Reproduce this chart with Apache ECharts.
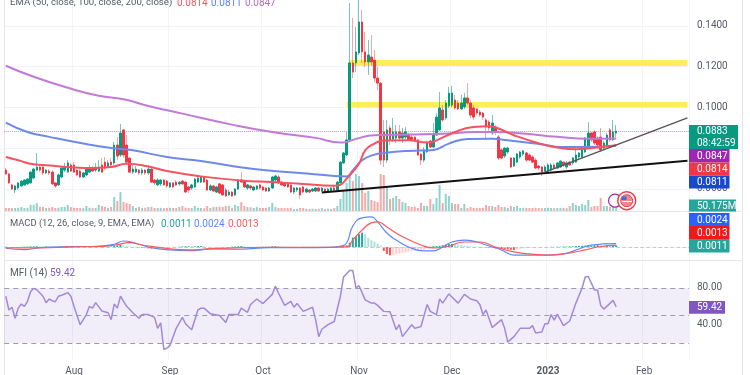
<!DOCTYPE html>
<html><head><meta charset="utf-8">
<style>html,body{margin:0;padding:0;background:#fff}#c{width:750px;height:375px}</style>
<script src="https://cdn.jsdelivr.net/npm/echarts@6/dist/echarts.min.js"></script>
</head><body><div id="c"></div>
<script>
// rows: open, close, high, low (one per day from 10 Jul 2022)
const candles = [
[.0692,.0673,.0702,.0668],[.0673,.0629,.0678,.0624],[.0619,.0599,.0624,.0594],[.0594,.0614,.0619,.0579],[.0604,.0629,.0633,.0594],
[.0614,.0638,.0643,.0609],[.0619,.0643,.0648,.0614],[.0624,.0648,.0653,.0619],[.0629,.0682,.0687,.0624],[.0653,.0697,.0702,.0648],
[.0692,.0707,.0776,.0687],[.0707,.0692,.0717,.0682],[.0707,.0678,.0717,.0668],[.0678,.0692,.0697,.0673],[.0687,.0678,.0697,.0668],
[.0682,.0624,.0692,.0619],[.0629,.0614,.0633,.0604],[.0619,.0668,.0673,.0614],[.0658,.0702,.0707,.0653],[.0692,.0707,.0727,.0682],
[.0682,.0727,.0741,.0678],[.0717,.0687,.0727,.0682],[.0717,.0682,.0731,.0678],[.0692,.0668,.0697,.0663],[.0687,.0658,.0697,.0653],
[.0658,.0678,.0682,.0653],[.0668,.0697,.0702,.0663],[.0682,.0702,.0717,.0678],[.0702,.0687,.0712,.0682],[.0692,.0702,.0727,.0682],
[.0687,.0707,.0741,.0682],[.0717,.0682,.0751,.0678],[.0731,.0702,.0756,.0692],[.0707,.0727,.0741,.0702],[.0731,.0717,.0751,.0712],
[.0727,.0815,.0830,.0717],[.0815,.0761,.0854,.0741],[.0766,.0874,.0918,.0756],[.0889,.0766,.0894,.0751],[.0815,.0731,.0864,.0722],
[.0751,.0682,.0756,.0678],[.0682,.0697,.0717,.0673],[.0682,.0697,.0712,.0678],[.0692,.0678,.0697,.0668],[.0678,.0692,.0702,.0668],
[.0692,.0678,.0697,.0668],[.0678,.0697,.0717,.0668],[.0697,.0633,.0702,.0629],[.0643,.0629,.0648,.0619],[.0619,.0643,.0653,.0614],
[.0624,.0643,.0648,.0614],[.0643,.0619,.0648,.0614],[.0638,.0614,.0643,.0604],[.0609,.0629,.0633,.0604],[.0629,.0609,.0633,.0604],
[.0633,.0619,.0643,.0614],[.0624,.0633,.0638,.0614],[.0638,.0624,.0643,.0619],[.0633,.0584,.0638,.0579],[.0609,.0594,.0614,.0579],
[.0604,.0619,.0624,.0594],[.0609,.0648,.0653,.0604],[.0633,.0653,.0658,.0629],[.0633,.0658,.0663,.0629],[.0658,.0633,.0663,.0629],
[.0643,.0594,.0648,.0589],[.0594,.0614,.0624,.0589],[.0614,.0589,.0619,.0584],[.0584,.0609,.0614,.0579],[.0624,.0579,.0629,.0574],
[.0619,.0570,.0624,.0565],[.0594,.0565,.0604,.0560],[.0570,.0584,.0594,.0565],[.0584,.0565,.0589,.0560],[.0570,.0599,.0604,.0565],
[.0599,.0643,.0648,.0594],[.0643,.0633,.0682,.0629],[.0638,.0609,.0643,.0604],[.0604,.0619,.0624,.0594],[.0614,.0604,.0619,.0594],
[.0594,.0609,.0614,.0589],[.0599,.0614,.0619,.0594],[.0619,.0604,.0624,.0594],[.0609,.0594,.0614,.0589],[.0604,.0589,.0609,.0584],
[.0589,.0604,.0609,.0584],[.0604,.0658,.0663,.0599],[.0643,.0663,.0668,.0638],[.0658,.0629,.0668,.0624],[.0633,.0619,.0638,.0614],
[.0629,.0614,.0633,.0609],[.0624,.0609,.0629,.0604],[.0619,.0584,.0624,.0579],[.0584,.0604,.0609,.0574],[.0594,.0604,.0609,.0584],
[.0604,.0570,.0609,.0550],[.0609,.0584,.0614,.0579],[.0584,.0599,.0604,.0579],[.0594,.0584,.0599,.0579],[.0589,.0599,.0604,.0584],
[.0589,.0604,.0609,.0584],[.0604,.0589,.0609,.0584],[.0589,.0604,.0609,.0584],[.0599,.0584,.0604,.0579],[.0589,.0599,.0604,.0584],
[.0589,.0604,.0609,.0584],[.0604,.0594,.0614,.0589],[.0594,.0633,.0638,.0584],[.0629,.0731,.0736,.0624],[.0727,.0776,.0781,.0722],
[.0766,.0840,.0879,.0761],[.0840,.1218,.1512,.0830],[.1218,.1173,.1439,.1144],[.1218,.1272,.1394,.1173],[.1267,.1419,.1527,.1257],
[.1419,.1272,.1478,.1218],[.1272,.1223,.1370,.1198],[.1223,.1257,.1331,.1159],[.1247,.1223,.1355,.1203],[.1232,.1144,.1282,.1124],
[.1144,.1119,.1198,.1085],[.1119,.0741,.1124,.0717],[.0879,.0741,.0938,.0707],[.0741,.0889,.0938,.0727],[.0899,.0840,.0913,.0815],
[.0844,.0879,.0948,.0830],[.0849,.0879,.0913,.0825],[.0879,.0849,.0913,.0840],[.0849,.0874,.0899,.0825],[.0854,.0879,.0903,.0844],
[.0864,.0840,.0874,.0835],[.0854,.0840,.0864,.0830],[.0854,.0835,.0859,.0830],[.0840,.0766,.0844,.0761],[.0771,.0741,.0776,.0717],
[.0741,.0791,.0805,.0731],[.0781,.0830,.0835,.0776],[.0835,.0805,.0840,.0800],[.0805,.0864,.0923,.0800],[.0864,.0952,.0972,.0859],
[.0889,.0997,.1075,.0884],[.0987,.0938,.1011,.0928],[.0948,.1021,.1036,.0938],[.1007,.1070,.1100,.0997],[.1011,.1070,.1105,.1002],
[.1036,.0997,.1061,.0987],[.1021,.0992,.1036,.0987],[.0992,.1021,.1061,.0987],[.1002,.1046,.1070,.0992],[.1046,.1021,.1119,.1011],
[.1021,.0962,.1036,.0948],[.0997,.0952,.1011,.0938],[.0992,.0972,.0997,.0962],[.0977,.0962,.0987,.0952],[.0972,.0952,.0977,.0938],
[.0938,.0903,.0948,.0849],[.0928,.0899,.0938,.0879],[.0874,.0923,.0962,.0864],[.0903,.0879,.0913,.0864],[.0854,.0751,.0864,.0741],
[.0791,.0751,.0800,.0746],[.0761,.0800,.0805,.0751],[.0781,.0800,.0805,.0771],[.0751,.0707,.0756,.0702],[.0712,.0751,.0756,.0707],
[.0731,.0771,.0776,.0727],[.0756,.0781,.0786,.0746],[.0771,.0786,.0791,.0761],[.0776,.0741,.0781,.0731],[.0766,.0741,.0776,.0736],
[.0756,.0731,.0766,.0727],[.0741,.0702,.0751,.0697],[.0712,.0702,.0717,.0692],[.0707,.0682,.0712,.0663],[.0687,.0707,.0717,.0682],
[.0687,.0717,.0727,.0678],[.0692,.0717,.0727,.0687],[.0717,.0702,.0727,.0697],[.0702,.0727,.0731,.0697],[.0707,.0736,.0741,.0702],
[.0731,.0717,.0736,.0707],[.0707,.0727,.0736,.0697],[.0731,.0717,.0736,.0712],[.0727,.0751,.0756,.0717],[.0731,.0766,.0800,.0727],
[.0756,.0776,.0781,.0746],[.0756,.0791,.0795,.0751],[.0781,.0849,.0854,.0776],[.0805,.0874,.0928,.0795],[.0874,.0840,.0879,.0830],
[.0879,.0825,.0889,.0815],[.0849,.0815,.0859,.0805],[.0854,.0791,.0899,.0781],[.0800,.0825,.0835,.0791],[.0815,.0864,.0874,.0805],
[.0889,.0840,.0899,.0830],[.0840,.0879,.0938,.0835],[.0874,.0883,.0913,.0854]
];
// traded volume, millions
const volumes = [
30,30,28,30,32,40,30,32,60,62, 78,42,40,30,32,40,30,32,40,42,
60,40,32,30,30,28,50,32,30,30, 62,50,42,32,40,140,100,190,90,80,
70,50,32,40,30,32,40,42,30,30, 32,28,30,32,30,30,40,50,32,30,
30,50,32,30,28,50,30,40,40,42, 40,50,50,32,60,50,90,50,40,38,
30,40,32,30,32,40,80,40,30,30, 28,30,32,20,22,30,30,22,20,22,
20,22,30,20,22,20,30,50,120,200, 280,370,300,380,350,280,180,200,110,100,
90,380,360,250,120,130,150,120,90,80, 50,40,42,30,80,50,50,120,70,130,
260,80,170,150,80,70,70,30,70,30, 40,30,32,30,32,60,50,50,40,60,
40,40,30,50,40,50,30,32,30,30, 30,32,30,28,30,32,30,28,30,32,
30,28,50,80,60,50,70,60,110,40, 50,50,130,50,50,40,50,50.175
];
const ema50 = [[0,.0756],[4,.0740],[9,.0720],[14,.0715],[20,.0707],[28,.0702],[34,.0707],[39,.0723],[46,.0710],[52,.0687],[63,.0661],[76,.0641],[86,.0633],[95,.0625],[106,.0615],[108,.0620],[110,.0650],[114,.0723],[116,.0789],[119,.0822],[122,.0837],[130,.0838],[136,.0827],[139,.0838],[145,.0879],[151,.0904],[156,.0907],[159,.0896],[164,.0863],[173,.0819],[179,.0800],[184,.0794],[190,.0802],[197,.0814]];
const ema100 = [[0,.0925],[7,.0879],[14,.0855],[25,.0822],[34,.0800],[41,.0789],[52,.0756],[63,.0737],[73,.0712],[84,.0691],[95,.0677],[106,.0663],[110,.0661],[112,.0691],[115,.0740],[119,.0768],[122,.0776],[130,.0786],[138,.0791],[143,.0822],[149,.0845],[157,.0846],[162,.0838],[173,.0819],[179,.0805],[186,.0805],[197,.0811]];
const ema200 = [[0,.1204],[9,.1150],[20,.1096],[30,.1057],[38,.1040],[46,.1007],[57,.0969],[73,.0915],[87,.0876],[100,.0850],[108,.0827],[110,.0830],[113,.0845],[119,.0863],[130,.0866],[143,.0871],[151,.0879],[158,.0879],[167,.0871],[178,.0855],[188,.0846],[197,.0847]];
const macdLine = [[0,-.0009],[6,-.0019],[11,-.0005],[21,.0002],[30,.0005],[35,.0019],[38,.0042],[42,.0026],[47,-.0005],[53,-.0021],[59,-.0026],[67,-.0014],[76,-.0016],[85,-.0005],[95,-.0005],[105,-.0003],[108,.0005],[110,.0028],[112,.0148],[115,.0205],[118,.0212],[120,.0177],[123,.0099],[126,.0049],[130,0],[135,-.0028],[138,-.0028],[141,0],[144,.0035],[148,.0049],[152,.0035],[156,.0007],[160,-.0021],[164,-.0057],[169,-.0057],[175,-.0057],[180,-.0049],[185,-.0014],[189,.0014],[197,.0024]];
const signalLine = [[0,-.0007],[11,-.0007],[21,0],[30,.0004],[35,.0012],[40,.0030],[44,.0014],[53,-.0014],[59,-.0021],[67,-.0012],[85,-.0002],[105,-.0002],[110,0],[112,.0049],[115,.0120],[118,.0170],[120,.0177],[123,.0141],[127,.0085],[134,.0014],[138,-.0007],[142,0],[148,.0035],[153,.0035],[158,0],[164,-.0035],[169,-.0049],[175,-.0057],[180,-.0049],[187,-.0021],[191,0],[197,.0013]];
const macdHist = [
.0002,.0001,-.0001,-.0002,-.0001,.0001,.0002,.0003,.0004,.0005, .0005,.0004,.0003,.0003,.0002,.0001,-.0001,-.0001,.0001,.0002,
.0002,.0002,.0001,.0001,.0001,.0001,.0002,.0002,.0002,.0002, .0002,.0003,.0003,.0004,.0004,.0008,.0010,.0014,.0012,.0008,
.0004,.0002,-.0002,-.0004,-.0006,-.0008,-.0010,-.0012,-.0012,-.0010, -.0008,-.0008,-.0006,-.0006,-.0005,-.0003,.0002,.0004,.0005,.0005,
.0004,.0005,.0006,.0006,.0005,.0002,.0001,-.0002,-.0002,-.0003, -.0003,-.0003,-.0002,.0002,.0003,.0005,.0006,.0005,.0003,.0002,
.0001,.0001,.0001,.0002,.0002,.0002,.0005,.0006,.0005,.0003, .0002,.0001,-.0001,-.0001,-.0001,-.0001,.0001,.0001,.0001,.0001,
.0001,.0001,.0001,.0001,.0001,.0002,.0003,.0005,.0008,.0010, .0012,.0030,.0066,.0073,.0090,.0101,.0090,.0066,.0047,.0038,
.0024,.0010,-.0028,-.0050,-.0059,-.0059,-.0052,-.0047,-.0042,-.0038, -.0033,-.0028,-.0026,-.0024,-.0024,-.0019,-.0005,.0002,.0005,.0006,
.0008,.0012,.0016,.0020,.0022,.0020,.0016,.0012,.0009,.0006, .0005,.0004,.0002,.0001,-.0002,-.0003,-.0005,-.0008,-.0010,-.0012,
-.0014,-.0016,-.0018,-.0020,-.0022,-.0018,-.0014,-.0010,-.0008,-.0005, -.0004,-.0003,-.0002,-.0002,-.0001,-.0001,.0001,.0001,.0002,.0002,
.0003,.0003,.0004,.0005,.0006,.0007,.0008,.0009,.0010,.0011, .0012,.0013,.0012,.0011,.0012,.0011,.0011,.0011
];
const mfi = [[0,71],[1,56],[2,59],[3,47],[4,58],[5,62.5],[6,60],[7,65.5],[8,76],[9,79.6],[10,78],[12,71],[13,64],[14,68],[15,66],[16,65],[17,71],[18,72],[19,73.5],[20,75],[21,71],[22,60],[24,40],[26,51],[27,60],[28,58],[29,64],[31,55],[33,53],[34,45.5],[35,62.5],[36,58],[37,71],[39,60],[41,53],[43,47],[44,51],[46,51],[48,48],[49,36],[50,42],[51,13],[52,14.5],[53,17.5],[55,36],[57,48],[58,41],[60,34.5],[62,56],[63,58],[64,58],[66,52],[69,50],[71,42.5],[72,51],[75,51],[76,58],[78,53.5],[79,62],[81,68],[83,63],[86,73],[87,82],[88,74.5],[90,61],[92,65.5],[93,59],[94,63],[96,54.5],[99,59],[100,45.5],[101,27],[102,35],[104,40],[106,43.5],[108,71],[109,92],[111,99],[112,99],[113,80],[114,82.5],[116,67],[118,63.5],[119,63.5],[120,61],[122,54.5],[124,54],[126,34.5],[127,40],[128,27],[131,40],[132,36],[134,38],[136,62],[137,54.5],[139,51],[140,68],[141,63.5],[143,73.5],[146,63.5],[148,73],[150,68],[152,66],[153,62],[154,51],[155,56],[157,37],[160,45.5],[161,36],[162,21],[164,27],[166,36],[169,36],[170,39],[171,31],[173,32],[174,41],[175,41],[176,51],[177,45],[178,51.5],[180,39],[182,44],[184,63.5],[186,80],[187,92],[188,92.5],[190,78],[191,77.5],[192,61],[193,57],[196,66.5],[197,59.42]];
const totalDays = 221;
const monthIndex = [22,53,83,114,144,175,206];
const monthLabels = ['Aug','Sep','Oct','Nov','Dec','2023','Feb'];
const priceTicks = [.06,.08,.10,.12,.14];
const mfiTicks = [80,40];
const mfiLevels = [80,50,20];
const zoneLower = [.0999,.1026], zoneUpper = [.1203,.1232];
const supportLine = [[102,.0582],[220,.0738]];
const riseLine = [[174,.0682],[220,.0948]];
const lastPrice = .0883;

const labels = Array.from({length:totalDays},()=> '');
monthIndex.forEach((d,k)=>{labels[d]=monthLabels[k];});
const FONT='Roboto, "Liberation Sans", sans-serif';
const FS=10;
const UP='#089981', DOWN='#f23645', GRID='#f0f3fa', TXT='#555a66';
const isTick=(i,v)=>v!=='';

function xAxis(gi,showLabel){return {type:'category',gridIndex:gi,data:labels,boundaryGap:true,
  axisLine:{show:false},axisTick:{show:false},
  axisLabel:{show:showLabel,interval:isTick,color:TXT,fontFamily:FONT,fontSize:FS,margin:6,hideOverlap:false,
    formatter:v=>v==='2023'?'{b|2023}':v,rich:{b:{fontWeight:'bold',fontSize:FS,color:TXT,fontFamily:FONT}}},
  splitLine:{show:gi!==1,interval:isTick,lineStyle:{color:GRID,width:1}}};}

const wicks=[],bodies=[],vol=[];
candles.forEach((c,i)=>{const up=c[1]>=c[0];
  wicks.push([c[0],c[1],c[3],c[2]]);
  bodies.push([c[0],c[1],Math.min(c[0],c[1]),Math.max(c[0],c[1])]);
  vol.push({value:volumes[i],itemStyle:{color:up?'rgba(38,166,154,.5)':'rgba(239,83,80,.5)'}});
});
const hist=macdHist.map((v,i)=>{const p=i?macdHist[i-1]:0;
  const col=v>=0?(v>=p?'#26a69a':'#b2dfdb'):(v<p?'#ff5252':'#ffcdd2');
  return {value:v,itemStyle:{color:col}};});

function lineS(name,data,xi,yi,color,w,extra){return Object.assign({name,type:'line',data,xAxisIndex:xi,yAxisIndex:yi,symbol:'none',showSymbol:false,
  lineStyle:{color,width:w},itemStyle:{color},z:5,silent:true},extra||{});}
const zone=(r,x)=>[{xAxis:x,yAxis:r[0],itemStyle:{color:'#ffeb3b',opacity:.85}},{xAxis:220,yAxis:r[1]}];

function txt(x,y,t,fill,fs){return {type:'text',x,y,z:100,silent:true,style:{text:t,fill,font:(fs||FS)+'px '+FONT,textVerticalAlign:'middle'}};}
function box(x,y,w,h,fill){return {type:'rect',z:90,silent:true,shape:{x,y,width:w,height:h},style:{fill}};}
function hline(y){return {type:'line',z:1,silent:true,shape:{x1:4,y1:y+.5,x2:742,y2:y+.5},style:{stroke:'#e3e6ee',lineWidth:1}};}
function vline(x){return {type:'line',z:1,silent:true,shape:{x1:x+.5,y1:0,x2:x+.5,y2:375},style:{stroke:'#e3e6ee',lineWidth:1}};}
const G=(top,height)=>({left:4.25,width:684.75,top,height,outerBoundsMode:'none',containLabel:false});

const chart=echarts.init(document.getElementById('c'),null,{renderer:'canvas'});
chart.setOption({
 animation:false,backgroundColor:'#fff',
 grid:[G(0,211),G(174,37),G(211,49),G(260,100)],
 xAxis:[xAxis(0,false),xAxis(1,false),xAxis(2,false),xAxis(3,true)],
 yAxis:[
  {type:'value',gridIndex:0,position:'right',min:.0491,max:.1527,
   axisLine:{show:false},axisTick:{show:false,customValues:priceTicks},
   axisLabel:{customValues:priceTicks,color:TXT,fontFamily:FONT,fontSize:FS,margin:8,formatter:v=>v.toFixed(4)},
   splitLine:{show:true,lineStyle:{color:GRID}}},
  {type:'value',gridIndex:1,min:0,max:370,show:false},
  {type:'value',gridIndex:2,min:-.0092,max:.0254,show:false},
  {type:'value',gridIndex:3,position:'right',min:1.5,max:110.5,
   axisLine:{show:false},axisTick:{show:false},
   axisLabel:{customValues:mfiTicks,color:TXT,fontFamily:FONT,fontSize:FS,margin:8,formatter:v=>v.toFixed(2)},
   splitLine:{show:false}}],
 series:[
  {type:'bar',name:'Volume',data:vol,xAxisIndex:1,yAxisIndex:1,barWidth:2,z:1,silent:true},
  {type:'candlestick',name:'Wicks',data:wicks,xAxisIndex:0,yAxisIndex:0,barWidth:1,z:3,silent:true,
   itemStyle:{color:'rgba(8,153,129,.55)',color0:'rgba(242,54,69,.45)',borderColor:'rgba(8,153,129,.55)',borderColor0:'rgba(242,54,69,.45)',borderWidth:1},
   markArea:{silent:true,data:[zone(zoneUpper,111),zone(zoneLower,110)]},
   markLine:{silent:true,precision:6,symbol:'none',label:{show:false},lineStyle:{color:'rgba(8,153,129,.6)',type:'dotted',width:1},data:[{yAxis:lastPrice}]}},
  {type:'candlestick',name:'Bodies',data:bodies,xAxisIndex:0,yAxisIndex:0,barWidth:2,z:4,silent:true,
   itemStyle:{color:UP,color0:DOWN,borderColor:UP,borderColor0:DOWN,borderWidth:1}},
  lineS('EMA 200',ema200,0,0,'#c17bd6',2,{smooth:true}),
  lineS('EMA 100',ema100,0,0,'#6d8aea',2,{smooth:true}),
  lineS('EMA 50',ema50,0,0,'#f7525f',2,{smooth:true}),
  lineS('Support',supportLine,0,0,'#111',2,{z:6}),
  lineS('Rise',riseLine,0,0,'#555',1.5,{z:6}),
  {type:'bar',name:'Histogram',data:hist,xAxisIndex:2,yAxisIndex:2,barWidth:2,z:1,silent:true},
  lineS('MACD',macdLine,2,2,'#5b86ff',1.2,{smooth:true,
    markLine:{silent:true,symbol:'none',label:{show:false},lineStyle:{color:'#c4c8d0',type:'dashed',width:1},data:[{yAxis:0}]}}),
  lineS('Signal',signalLine,2,2,'#ff5a5a',1.2,{smooth:true}),
  lineS('MFI',mfi,3,3,'#a18ad8',1.5,{
    markArea:{silent:true,itemStyle:{color:'rgba(126,87,194,.1)'},data:[[{yAxis:mfiLevels[2]},{yAxis:mfiLevels[0]}]]},
    markLine:{silent:true,symbol:'none',label:{show:false},lineStyle:{color:'#9a9eaa',type:[5,4],width:1},data:mfiLevels.map(v=>({yAxis:v}))}})
 ],
 graphic:[
  vline(4),vline(742),hline(211),hline(260),
  txt(10,3,'EMA (50, close, 100, close, 200, close)',TXT,9.6),
  txt(177,3,'0.0814','#f7525f'),txt(211,3,'0.0811','#5b7ff0'),txt(245,3,'0.0847','#b56ad0'),
  txt(10,224,'MACD (12, 26, close, 9, EMA, EMA)',TXT,9.4),
  txt(161,224,'0.0011','#26a69a'),txt(194,224,'0.0024','#5b86ff'),txt(228,224,'0.0013','#ff5a5a'),
  txt(10,273,'MFI (14)',TXT),txt(50,273,'59.42','#7e57c2'),
  box(689,125,49,24,'#089981'),txt(697,131.5,'0.0883','#fff'),txt(697,143,'08:42:59','#fff'),
  box(689,149,40.5,13.5,'#9c27b0'),txt(697,156,'0.0847','#fff'),
  box(689,162.5,40.5,13,'#f23645'),txt(697,169.5,'0.0814','#fff'),
  box(689,175.5,40.5,13,'#1848cc'),txt(697,182.5,'0.0811','#fff'),
  box(689,199.5,47,12,'#26a69a'),txt(697,206,'50.175M','#fff'),
  box(689,213,40.5,13,'#2962ff'),txt(697,220,'0.0024','#fff'),
  box(689,226,40.5,13,'#f01818'),txt(697,233,'0.0013','#fff'),
  box(689,239,40.5,13.5,'#26a69a'),txt(697,246,'0.0011','#fff'),
  box(689,301,36,12.7,'#7e57c2'),txt(697,307.5,'59.42','#fff'),
  {type:'circle',z:80,silent:true,shape:{cx:615,cy:200.7,r:6.5},style:{fill:'#fff',stroke:'#9c27b0',lineWidth:1.2}},
  {type:'circle',z:81,silent:true,shape:{cx:626.7,cy:200.7,r:9},style:{fill:'#fff',stroke:'#f23645',lineWidth:1.4}},
  {type:'circle',z:82,silent:true,shape:{cx:626.7,cy:200.7,r:6},style:{fill:'#f08a8a',stroke:'#f23645',lineWidth:1}},
  {type:'rect',z:83,silent:true,shape:{x:621.5,y:196.5,width:5,height:3.5},style:{fill:'#3f6fd8'}},
  {type:'rect',z:83,silent:true,shape:{x:621.5,y:201,width:10.5,height:1},style:{fill:'#fff'}}
 ]
});
</script></body></html>
